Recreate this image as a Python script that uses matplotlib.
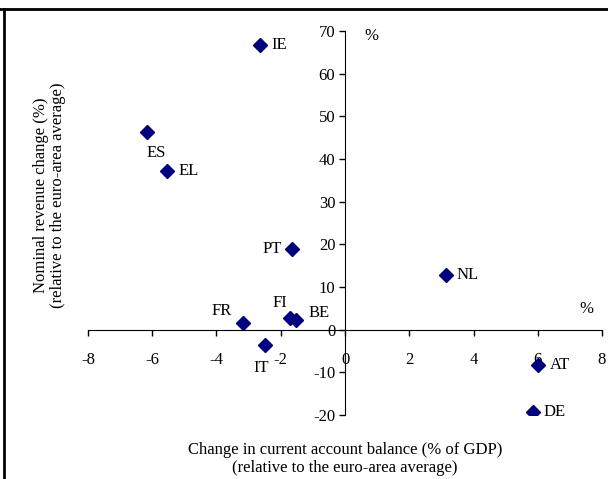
import matplotlib

matplotlib.use("Agg")
import matplotlib.pyplot as plt
from matplotlib.lines import Line2D

# values
countries = ["IE", "ES", "EL", "PT", "NL", "FR", "FI", "BE", "IT", "AT", "DE"]
ca_change = [-2.64, -6.15, -5.53, -1.65, 3.14, -3.17, -1.71, -1.52, -2.48, 6.02, 5.84]
rev_change = [66.7, 46.4, 37.2, 19.0, 12.9, 1.6, 2.8, 2.3, -3.5, -8.2, -19.4]

x_ticks = [-8, -6, -4, -2, 0, 2, 4, 6, 8]
y_ticks = [-20, -10, 0, 10, 20, 30, 40, 50, 60, 70]

# label placement: (dx, dy, ha, va) relative to the point
label_pos = {
    "IE": (0.35, 0.0, "left", "center"),
    "ES": (0.28, -4.9, "center", "center"),
    "EL": (0.34, 0.0, "left", "center"),
    "PT": (-0.3, 0.0, "right", "center"),
    "NL": (0.34, 0.0, "left", "center"),
    "FR": (-0.68, 2.8, "center", "center"),
    "FI": (-0.31, 3.5, "center", "center"),
    "BE": (0.71, 1.7, "center", "center"),
    "IT": (-0.13, -5.6, "center", "center"),
    "AT": (0.35, 0.0, "left", "center"),
    "DE": (0.34, 0.0, "left", "center"),
}

plt.rcParams["font.family"] = ["Liberation Serif", "DejaVu Serif"]
plt.rcParams["font.size"] = 12
plt.rcParams["axes.unicode_minus"] = False

fig = plt.figure(figsize=(6.08, 4.79), dpi=100)
ax = fig.add_axes([0.1447, 0.1336, 0.8455, 0.8017])

ax.plot(ca_change, rev_change, "D", color="#000080", markersize=7.5, linestyle="none")
for name, x, y in zip(countries, ca_change, rev_change):
    dx, dy, ha, va = label_pos[name]
    ax.text(x + dx, y + dy, name, ha=ha, va=va, fontsize=12)

ax.set_xlim(-8, 8)
ax.set_ylim(-20, 70)
ax.set_xticks(x_ticks)
ax.set_yticks(y_ticks)
ax.spines["left"].set_position(("data", 0))
ax.spines["bottom"].set_position(("data", 0))
ax.spines["right"].set_visible(False)
ax.spines["top"].set_visible(False)
ax.tick_params(direction="out", length=4, width=1, labelsize=12, pad=3)
ax.tick_params(axis="x", pad=12)

ax.text(0.81, 68.9, "%", ha="center", va="center", fontsize=12)
ax.text(7.52, 4.9, "%", ha="center", va="center", fontsize=12)

fig.text(0.081, 0.593, "Nominal revenue change (%)\n(relative to the euro-area average)",
         rotation=90, ha="center", va="center", fontsize=12, linespacing=1.1)
fig.text(0.567, 0.042, "Change in current account balance (% of GDP)\n(relative to the euro-area average)",
         ha="center", va="center", fontsize=12, linespacing=1.15)

# frame lines of the original box
fig.add_artist(Line2D([0, 1], [0.981, 0.981], color="black", lw=2, transform=fig.transFigure))
fig.add_artist(Line2D([0.0066, 0.0066], [0, 0.981], color="black", lw=2, transform=fig.transFigure))

fig.savefig("out.png", dpi=100)
